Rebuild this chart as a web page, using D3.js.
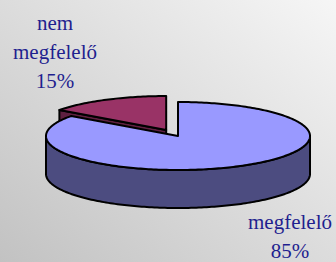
<!DOCTYPE html>
<html>
<head>
<meta charset="utf-8">
<script src="https://cdn.jsdelivr.net/npm/d3@7"></script>
<style>
    html, body { margin: 0; padding: 0; }
    #chart { width: 336px; height: 262px; }
    .label { font-family: "Liberation Serif", "DejaVu Serif", serif; font-size: 21px; fill: #1f1f8f; }
</style>
</head>
<body>
<div id="chart"></div>
<script>
const categories = ["megfelelő", "nem megfelelő"];
const values = [85, 15];
const labelLines = [["megfelelő", "85%"], ["nem", "megfelelő", "15%"]];

class Pie3D{
    constructor(parentSelector){
        this.parent = d3.select(parentSelector);
        this.wSvg = 336;
        this.hSvg = 262;

        this.cx = 178;
        this.cy = 136;
        this.rx = 132;
        this.ry = 34;
        this.depth = 38;
        this.explode = 26;

        this.colors = {
            top: ["#9999ff", "#993366"],
            side: ["#4c4c80", "#5e2040"]
        }
        this.init();
    }

    init(){
        this.svg = this.parent.append("svg")
            .attr("width", this.wSvg)
            .attr("height", this.hSvg);

        this.renderBackground();

        const pie = d3.pie().sort(null).startAngle(0).endAngle(2 * Math.PI);
        this.slices = pie(values).map((d, i) => {
            const mid = (d.startAngle + d.endAngle) / 2;
            const off = i === 1 ? this.explode : 0;
            return Object.assign(d, {
                i: i,
                ox: this.cx + off * Math.sin(mid),
                oy: this.cy - off * Math.cos(mid) * this.ry / this.rx
            });
        });

        this.pieGroup = this.svg.append("g").classed("pieGroup", true);
        // the exploded slice sits behind, so draw it first
        this.renderSlice(this.slices[1]);
        this.renderSlice(this.slices[0]);
        this.renderLabels();
    }

    renderBackground(){
        const grad = this.svg.append("defs").append("linearGradient")
            .attr("id", "bgGrad")
            .attr("x1", "0%").attr("y1", "100%")
            .attr("x2", "100%").attr("y2", "0%");
        grad.append("stop").attr("offset", "0%").attr("stop-color", "#c2c2c2");
        grad.append("stop").attr("offset", "100%").attr("stop-color", "#f6f6f6");

        this.svg.append("rect")
            .attr("width", this.wSvg)
            .attr("height", this.hSvg)
            .attr("fill", "url(#bgGrad)");
    }

    pt(s, a, dz){
        return [s.ox + this.rx * Math.sin(a), s.oy - this.ry * Math.cos(a) + (dz || 0)];
    }

    arcPoints(s, a0, a1, dz){
        const n = Math.max(2, Math.ceil(Math.abs(a1 - a0) / 0.02));
        return d3.range(n + 1).map(k => this.pt(s, a0 + (a1 - a0) * k / n, dz));
    }

    renderSlice(s){
        const g = this.pieGroup.append("g");
        const line = d3.line();
        const style = sel => sel
            .attr("stroke", "#000")
            .attr("stroke-width", 2)
            .attr("stroke-linejoin", "round");

        // cut face at the start edge (faces the viewer for the small slice)
        const faces = [];
        if(s.i === 1){
            const c = [s.ox, s.oy];
            const p = this.pt(s, s.startAngle);
            faces.push([c, p, [p[0], p[1] + this.depth], [c[0], c[1] + this.depth]]);
        }
        // outer wall, visible between 90 and 270 degrees
        const a0 = Math.max(s.startAngle, Math.PI / 2);
        const a1 = Math.min(s.endAngle, 3 * Math.PI / 2);
        if(a1 > a0){
            const topEdge = this.arcPoints(s, a0, a1, 0);
            const bottomEdge = this.arcPoints(s, a1, a0, this.depth);
            faces.push(topEdge.concat(bottomEdge));
        }
        faces.forEach(f => {
            g.append("path")
                .attr("d", line(f) + "Z")
                .attr("fill", this.colors.side[s.i])
                .call(style);
        });

        const top = [[s.ox, s.oy]].concat(this.arcPoints(s, s.startAngle, s.endAngle, 0));
        g.append("path")
            .attr("d", line(top) + "Z")
            .attr("fill", this.colors.top[s.i])
            .call(style);
    }

    renderLabels(){
        const pos = [[290, 229], [55, 30]];
        const lineHeight = 29;
        labelLines.forEach((lines, i) => {
            const t = this.svg.append("text")
                .classed("label", true)
                .attr("text-anchor", "middle")
                .attr("x", pos[i][0])
                .attr("y", pos[i][1]);
            lines.forEach((txt, k) => {
                t.append("tspan")
                    .attr("x", pos[i][0])
                    .attr("y", pos[i][1] + k * lineHeight)
                    .text(txt);
            });
        });
    }
}

new Pie3D("#chart");
</script>
</body>
</html>
